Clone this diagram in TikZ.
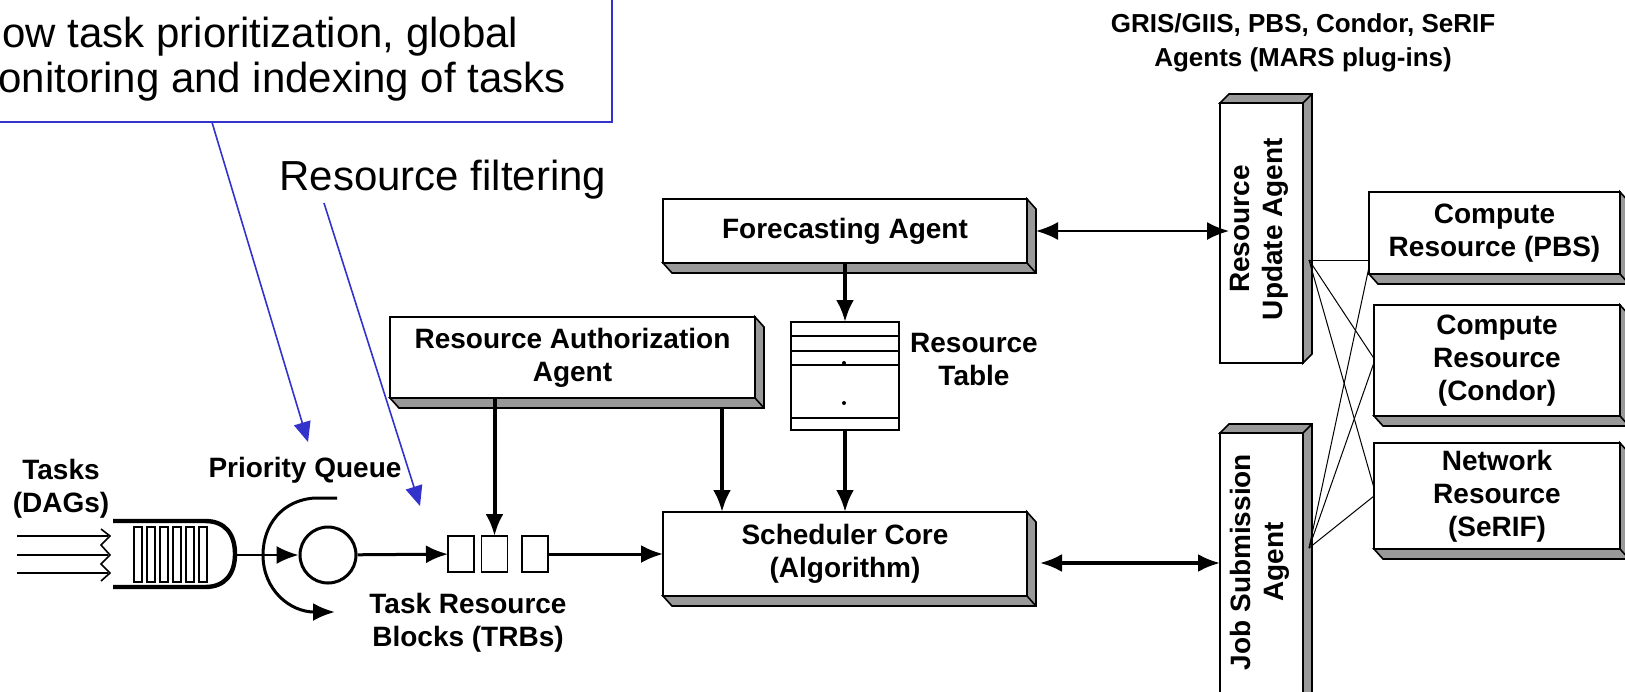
\documentclass[tikz,border=0pt]{standalone}
\usepackage{fontspec}
\setmainfont{Liberation Sans}
\usetikzlibrary{arrows.meta,calc}

\definecolor{slabgray}{RGB}{153,153,153}
\definecolor{noteblue}{RGB}{51,51,204}

\newcommand{\boldtext}{\fontsize{14}{16.5}\selectfont\bfseries}
\newcommand{\headtext}{\fontsize{13}{17}\selectfont\bfseries}
\newcommand{\notetext}{\fontsize{21}{25}\selectfont}

% 3D edge below/right and above/right of a box
\newcommand{\slabdown}[1]{%
    \filldraw[fill=slabgray, line width=0.8pt] (#1.north east) -- ++(9,10) -- ($(#1.south east)+(9,10)$)
        -- ($(#1.south west)+(9,10)$) -- (#1.south west) -- (#1.south east) -- cycle;
    \draw[line width=0.8pt] (#1.south east) -- ++(9,10);}
\newcommand{\slabup}[1]{%
    \filldraw[fill=slabgray, line width=0.8pt] (#1.north west) -- ++(9,-9) -- ($(#1.north east)+(9,-9)$)
        -- ($(#1.south east)+(9,-9)$) -- (#1.south east) -- (#1.north east) -- cycle;
    \draw[line width=0.8pt] (#1.north east) -- ++(9,-9);}

\begin{document}
\begin{tikzpicture}[x=0.5pt, y=-0.5pt, >={Latex[length=11pt,width=9pt]},
    agent/.style={draw, fill=white, line width=0.8pt, inner sep=0pt, outer sep=0pt, align=center, font=\boldtext},
    txt/.style={align=center, inner sep=0pt, font=\boldtext},
    flow/.style={->, line width=2pt},
    wire/.style={line width=0.5pt},
    pointer/.style={noteblue, line width=0.8pt, -{Triangle[length=10pt,width=8.5pt]}}
   ]
\useasboundingbox (0,0) rectangle (1625,691);

% note box (cut by the page edge)
\node[draw=noteblue, line width=0.8pt, minimum width=400pt, minimum height=100pt,
      anchor=south east, inner sep=0pt] (note) at (613,123) {};
\node[anchor=base west, inner sep=0pt, font=\notetext] (note-l2) at (2,47) {ow task prioritization, global};
\node[anchor=base west, inner sep=0pt, font=\notetext] (note-l3) at (-2,92) {onitoring and indexing of tasks};
\node[anchor=base west, inner sep=0pt, font=\notetext] (filter) at (279,190) {Resource filtering};
\coordinate (filter-foot) at (324,203);
\coordinate (pq-tip) at (308,442);
\coordinate (trb-tip) at (420,506);

% incoming tasks and queue
\node[txt] (tasks) at (61,489) {Tasks\\(DAGs)};
\foreach \y in {536, 555, 573}
{
    \draw[line width=0.8pt] (17,\y) -- (108,\y);
}
\draw[line width=0.8pt] (101,529) -- (110,536) -- (101,545) -- (110,555) -- (101,564) -- (110,573) -- (101,581);
\draw[line width=2.2pt] (113,521) -- (205,521) .. controls (226,521) and (235,535) .. (235,554)
    .. controls (235,573) and (226,587) .. (205,587) -- (113,587);
\foreach \x in {134, 147, ..., 199}
{
    \draw[line width=0.8pt] (\x,527) rectangle ++(8,55);
}
\coordinate (queue-out) at (235,555);
\node[circle, draw, line width=1.5pt, minimum size=28pt, inner sep=0pt] (pq) at (328,555) {};
\draw[->, line width=1.5pt] (337,498) -- (315,498) .. controls (282,500) and (263,525) .. (263,555)
    .. controls (263,590) and (290,612) .. (335,612);
\node[txt] (pq-label) at (305,470) {Priority Queue};

% task resource blocks
\foreach \x/\n in {461/1, 494.5/2, 535/3}
{
    \node[draw, line width=0.8pt, minimum width=13pt, minimum height=18pt, inner sep=0pt, outer sep=0pt] (trb\n) at (\x,554) {};
}
\node[txt] (trb-label) at (468,623) {Task Resource\\Blocks (TRBs)};

% agents
\node[agent, minimum width=182pt, minimum height=32pt] (fc) at (845,231) {Forecasting Agent};
\node[agent, minimum width=182.5pt, minimum height=40.5pt] (raa) at (572.5,357.5) {Resource Authorization\\Agent};
\node[agent, minimum width=182pt, minimum height=42pt] (sc) at (845,554) {Scheduler Core\\(Algorithm)};
\node[agent, minimum width=54pt, minimum height=54pt] (table) at (845,376) {};
\foreach \y in {336, 351, 365, 418}
{
    \draw[line width=0.8pt] (791,\y) -- (899,\y);
}
\fill (844,363) circle (2);
\fill (844,403) circle (2);
\node[txt] (table-label) at (974,359) {Resource\\Table};

\node[agent, minimum width=41.5pt, minimum height=130pt] (rua) at (1261.5,233) {};
\node[txt, rotate=90] (rua-text) at (1259,229) {Resource\\Update Agent};
\node[agent, minimum width=41.5pt, minimum height=150pt] (jsa) at (1261.5,583) {};
\node[txt, rotate=90] (jsa-text) at (1260,562) {Job Submission\\Agent};

\node[agent, minimum width=125.5pt, minimum height=41pt] (pbs) at (1494.5,233) {Compute\\Resource (PBS)};
\node[agent, minimum width=123pt, minimum height=55.5pt] (condor) at (1497,360.5) {Compute\\Resource\\(Condor)};
\node[agent, minimum width=123pt, minimum height=53pt] (net) at (1497,496) {Network\\Resource\\(SeRIF)};
\node[txt, font=\headtext] (plugins) at (1303,43) {GRIS/GIIS, PBS, Condor, SeRIF\\Agents (MARS plug-ins)};

\slabdown{fc}
\slabdown{raa}
\slabdown{sc}
\slabdown{pbs}
\slabdown{condor}
\slabdown{net}
\slabup{rua}
\slabup{jsa}

% connectors
\draw[->, line width=1pt] (queue-out) -- (pq);
\draw[->, line width=1.5pt] (pq) -- (trb1);
\draw[->, line width=1.5pt] (trb3) -- (sc);
\draw[flow] (fc.south) -- (table.north);
\draw[flow] (table.south) -- (sc.north);
\draw[flow] (raa.south -| trb2.north) -- (trb2.north);
\coordinate (raa-drop) at ($(raa.south)+(149.5,10)$);
\draw[flow] (raa-drop) -- (raa-drop |- sc.north);
\draw[<->, line width=1pt] ([xshift=4.5pt]fc.east) -- ([xshift=4.5pt]fc.east -| rua.west);
\draw[<->, line width=1.6pt] ([xshift=6.5pt,yshift=-4.5pt]sc.east) -- ([yshift=-4.5pt]sc.east -| jsa.west);

\coordinate (rua-port) at (1309,260);
\coordinate (jsa-port) at (1309,548);
\draw[wire] (rua-port) -- ([yshift=-13.5pt]pbs.west);
\draw[wire] (rua-port) -- ([yshift=1pt]condor.west);
\draw[wire] (rua-port) -- ([yshift=4pt]net.west);
\draw[wire] (jsa-port) -- ([yshift=-17pt]pbs.west);
\draw[wire] (jsa-port) -- ([yshift=-1pt]condor.west);
\draw[wire] (jsa-port) -- (net.west);

\draw[pointer] (note.south) -- (pq-tip);
\draw[pointer] (filter-foot) -- (trb-tip);

\end{tikzpicture}
\end{document}
